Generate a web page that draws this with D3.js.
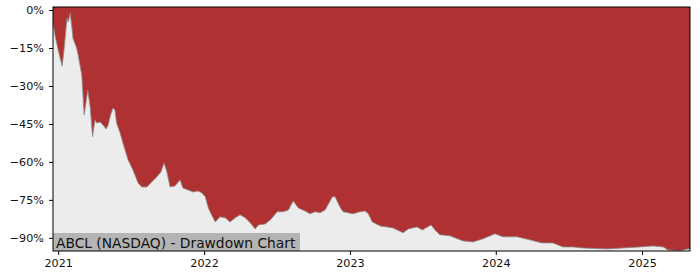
<!DOCTYPE html>
<html><head><meta charset="utf-8">
<script src="https://cdn.jsdelivr.net/npm/d3@7"></script>
<style>body{margin:0;background:#fff;}svg{display:block;}</style>
</head><body>
<svg id="c" width="700" height="280"></svg>
<script>
const dates = ["2020-12-19","2020-12-24","2021-01-01","2021-01-06","2021-01-11","2021-01-16","2021-01-23","2021-01-26","2021-01-31","2021-02-05","2021-02-07","2021-02-16","2021-02-20","2021-03-01","2021-03-07","2021-03-16","2021-03-22","2021-03-28","2021-04-03","2021-04-07","2021-04-16","2021-04-23","2021-05-01","2021-05-06","2021-05-12","2021-05-18","2021-05-23","2021-05-27","2021-06-05","2021-06-12","2021-06-25","2021-07-07","2021-07-20","2021-07-29","2021-08-11","2021-08-23","2021-09-05","2021-09-15","2021-09-23","2021-09-30","2021-10-08","2021-10-20","2021-11-02","2021-11-09","2021-11-22","2021-12-05","2021-12-17","2021-12-26","2022-01-04","2022-01-11","2022-01-16","2022-01-29","2022-02-10","2022-02-23","2022-03-07","2022-03-20","2022-04-01","2022-04-14","2022-04-27","2022-05-09","2022-05-17","2022-06-03","2022-06-16","2022-07-03","2022-07-18","2022-07-31","2022-08-12","2022-08-25","2022-09-11","2022-09-23","2022-10-06","2022-10-18","2022-10-31","2022-11-18","2022-11-25","2022-12-07","2022-12-15","2023-01-09","2023-01-26","2023-02-08","2023-02-16","2023-02-26","2023-03-18","2023-04-19","2023-05-14","2023-05-27","2023-06-18","2023-07-01","2023-07-23","2023-08-02","2023-08-14","2023-09-08","2023-10-11","2023-11-05","2023-11-30","2023-12-30","2024-01-19","2024-02-23","2024-03-26","2024-04-25","2024-05-23","2024-06-17","2024-07-12","2024-08-06","2024-10-05","2024-11-14","2024-12-27","2025-01-29","2025-02-23","2025-03-07","2025-04-06","2025-04-24","2025-05-01"];
const drawdown = [-5.1,-9.9,-15.8,-19.0,-22.1,-15.0,-3.2,-4.7,-1.2,-7.9,-11.1,-15.0,-17.8,-25.7,-41.5,-31.6,-38.3,-50.1,-43.4,-44.6,-44.2,-45.4,-47.0,-45.4,-41.5,-38.7,-39.5,-44.6,-48.6,-52.5,-59.2,-63.2,-68.3,-69.9,-69.9,-67.9,-65.9,-64.0,-60.4,-64.0,-69.9,-69.5,-67.1,-70.3,-71.1,-71.9,-71.5,-72.2,-73.8,-77.8,-79.7,-83.7,-81.7,-82.1,-83.7,-82.1,-80.9,-82.1,-84.1,-86.5,-84.9,-84.5,-82.9,-79.7,-79.7,-79.0,-75.4,-78.2,-79.4,-80.5,-79.7,-80.1,-79.0,-73.8,-73.8,-77.8,-79.7,-80.5,-79.7,-79.4,-80.5,-83.7,-85.3,-86.1,-88.0,-86.5,-85.7,-86.9,-84.9,-86.9,-88.8,-89.2,-91.2,-91.6,-90.4,-88.4,-89.6,-89.6,-90.8,-92.0,-92.0,-93.6,-93.6,-94.0,-94.4,-94.0,-93.6,-93.2,-93.6,-94.8,-95.1,-94.4,-94.4];
const yTicks = [0,-15,-30,-45,-60,-75,-90];
const xTicks = ["2021-01-01","2022-01-01","2023-01-01","2024-01-01","2025-01-01"];
const title = "ABCL (NASDAQ) - Drawdown Chart";

const parse = d3.timeParse("%Y-%m-%d");
const data = dates.map((d,i)=>({date:parse(d), v:drawdown[i]}));
const m = {l:53, r:690, t:7, b:251};
const x = d3.scaleTime().domain([data[0].date, data[data.length-1].date]).range([m.l, m.r]);
const y = d3.scaleLinear().domain([-95.2, 1.2]).range([m.b, m.t]);
const svg = d3.select("#c");

svg.append("rect").attr("x",m.l).attr("y",m.t).attr("width",m.r-m.l).attr("height",m.b-m.t).attr("fill","#ececec");
const area = d3.area().x(d=>x(d.date)).y0(m.t).y1(d=>y(d.v));
svg.append("path").datum(data).attr("d",area).attr("fill","#b03131");
svg.append("path").datum(data).attr("d",d3.line().x(d=>x(d.date)).y(d=>y(d.v))).attr("fill","none").attr("stroke","#8a8a8a").attr("stroke-width",0.8);

const fmt = v => (v<0 ? "\u2212"+Math.abs(v) : v) + "%";
const ya = svg.append("g").attr("transform",`translate(${m.l},0)`)
  .call(d3.axisLeft(y).tickValues(yTicks).tickFormat(fmt).tickSize(4).tickPadding(5));
const xa = svg.append("g").attr("transform",`translate(0,${m.b})`)
  .call(d3.axisBottom(x).tickValues(xTicks.map(parse)).tickFormat(d3.timeFormat("%Y")).tickSize(4).tickPadding(4));
[ya,xa].forEach(a=>{a.select(".domain").remove();a.selectAll("text").attr("font-family","DejaVu Sans").attr("font-size",11.2).attr("fill","#111");a.selectAll("line").attr("stroke","#000");});

svg.append("rect").attr("x",m.l).attr("y",233).attr("width",247).attr("height",m.b-233).attr("fill","#b4b4b4");
svg.append("text").attr("x",m.l+3).attr("y",247.5).attr("font-family","DejaVu Sans").attr("font-size",13.8).attr("fill","#111").text(title);

svg.append("rect").attr("x",m.l).attr("y",m.t).attr("width",m.r-m.l).attr("height",m.b-m.t).attr("fill","none").attr("stroke","#000").attr("stroke-width",1);
</script>
</body></html>
